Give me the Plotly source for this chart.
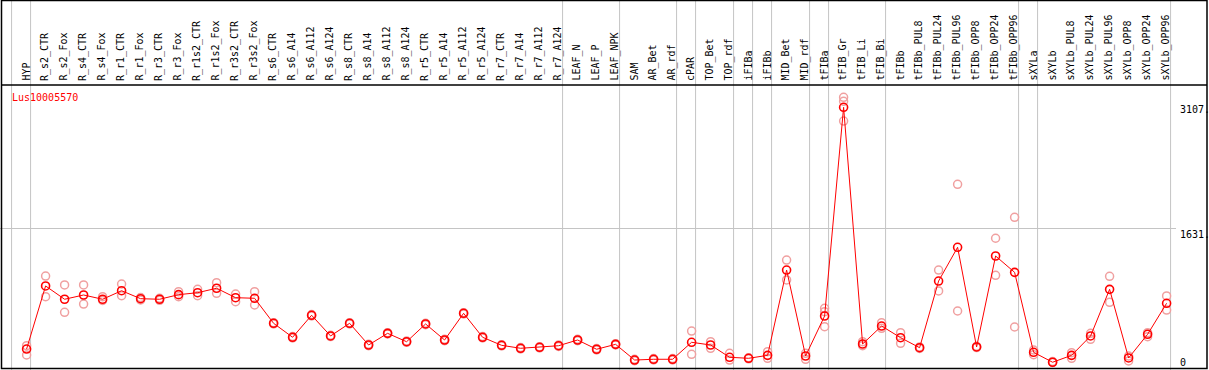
import plotly.graph_objects as go

categories = ["HYP", "R_s2_CTR", "R_s2_Fox", "R_s4_CTR", "R_s4_Fox", "R_r1_CTR", "R_r1_Fox",
              "R_r3_CTR", "R_r3_Fox", "R_r1s2_CTR", "R_r1s2_Fox", "R_r3s2_CTR", "R_r3s2_Fox",
              "R_s6_CTR", "R_s6_A14", "R_s6_A112", "R_s6_A124", "R_s8_CTR", "R_s8_A14",
              "R_s8_A112", "R_s8_A124", "R_r5_CTR", "R_r5_A14", "R_r5_A112", "R_r5_A124",
              "R_r7_CTR", "R_r7_A14", "R_r7_A112", "R_r7_A124", "LEAF_N", "LEAF_P", "LEAF_NPK",
              "SAM", "AR_Bet", "AR_rdf", "cPAR", "TOP_Bet", "TOP_rdf", "iFIBa", "iFIBb",
              "MID_Bet", "MID_rdf", "tFIBa", "tFIB_Gr", "tFIB_Li", "tFIB_Bi", "tFIBb",
              "tFIBb_PUL8", "tFIBb_PUL24", "tFIBb_PUL96", "tFIBb_OPP8", "tFIBb_OPP24",
              "tFIBb_OPP96", "sXYLa", "sXYLb", "sXYLb_PUL8", "sXYLb_PUL24", "sXYLb_PUL96",
              "sXYLb_OPP8", "sXYLb_OPP24", "sXYLb_OPP96"]

means = [163, 931, 769, 821, 769, 873, 776, 769, 825, 849, 903, 788, 781,
         476, 306, 574, 322, 476, 212, 354, 252, 468, 273, 598, 306,
         208, 172, 184, 203, 273, 160, 220,
         29, 38, 38, 245, 212, 62, 50, 86,
         1125, 78, 565, 3107, 224, 443, 301,
         179, 991, 1402, 188, 1296, 1097,
         123, 2, 86, 322, 890, 54, 342, 720]

rep1 = [203, 1052, 943, 943, 800, 955, 790, 781, 861, 890, 971, 833, 861,
        484, 314, 582, 330, 484, 220, 362, 260, 476, 281, 606, 314,
        216, 180, 192, 211, 281, 168, 228,
        37, 46, 46, 382, 252, 111, 56, 130,
        1247, 111, 659, 3229, 252, 484, 362,
        188, 1125, 2169, 196, 1512, 1767,
        151, 10, 118, 354, 1049, 78, 362, 809]

rep2 = [90, 800, 610, 711, 754, 812, 760, 756, 800, 812, 842, 739, 699,
        468, 298, 566, 314, 468, 204, 346, 244, 460, 265, 590, 298,
        200, 164, 176, 195, 265, 152, 212,
        21, 30, 30, 99, 172, 29, 44, 50,
        1004, 38, 618, 2940, 203, 415, 233,
        170, 870, 626, 180, 1061, 431,
        94, 0, 50, 281, 732, 17, 313, 638]

rep3 = [None] * len(categories)
rep3[42] = 435
rep3[43] = 3180

group_after = [-1, 0, 28, 31, 34, 35, 37, 38, 39, 41, 42, 45, 52, 53, 60]

title_text = "Lus10005570"
right_labels = ["3107.", "1631.", "0"]
grid_value = 1631

W, H = 1209, 370
X0, DX = 26.6, 19.0
Y0, SCALE = 362.4, 12.18

x_idx = list(range(len(categories)))

rx, ry = [], []
for reps in (rep1, rep2, rep3):
    for i, v in enumerate(reps):
        if v is not None:
            rx.append(i)
            ry.append(v)

fig = go.Figure()
fig.add_trace(go.Scatter(x=rx, y=ry, mode="markers",
                         marker=dict(symbol="circle-open", size=8,
                                     line=dict(width=1.5, color="#f0a0a0"),
                                     color="#f0a0a0"),
                         hoverinfo="skip", showlegend=False))
fig.add_trace(go.Scatter(x=x_idx, y=means, mode="lines+markers",
                         line=dict(color="#ff0000", width=1),
                         marker=dict(symbol="circle-open", size=8,
                                     line=dict(width=1.6, color="#ff0000"),
                                     color="#ff0000"),
                         showlegend=False))

shapes = []
gray = "#c4c4c4"
for g in group_after:
    shapes.append(dict(type="line", xref="x", yref="paper", x0=g + 0.21, x1=g + 0.21,
                       y0=0, y1=1, line=dict(color=gray, width=1), layer="below"))
shapes.append(dict(type="line", xref="paper", yref="y", x0=0, x1=1176 / W,
                   y0=grid_value, y1=grid_value, line=dict(color=gray, width=1), layer="below"))
# borders
shapes.append(dict(type="rect", xref="paper", yref="paper", x0=1.5 / W, x1=1207 / W,
                   y0=1 - 368.5 / H, y1=1 - 0.5 / H, line=dict(color="black", width=1.5)))
shapes.append(dict(type="line", xref="paper", yref="paper", x0=1.5 / W, x1=1207 / W,
                   y0=1 - 85 / H, y1=1 - 85 / H, line=dict(color="black", width=1.5)))

mono = "DejaVu Sans Mono"
annotations = []
for i, c in enumerate(categories):
    annotations.append(dict(x=i, xref="x", y=1 - 83 / H, yref="paper", text=c,
                            textangle=-90, showarrow=False, xanchor="center", yanchor="bottom",
                            xshift=-1, font=dict(family=mono, size=10, color="black")))
annotations.append(dict(x=10 / W, xref="paper", y=1 - 97 / H, yref="paper", text=title_text,
                        showarrow=False, xanchor="left", yanchor="middle",
                        font=dict(family=mono, size=10, color="#ff0000")))
for lab, py in zip(right_labels, [109, 234, 362]):
    annotations.append(dict(x=1178 / W, xref="paper", y=1 - py / H, yref="paper", text=lab,
                            showarrow=False, xanchor="left", yanchor="middle",
                            font=dict(family=mono, size=10, color="black")))

fig.update_layout(
    width=W, height=H,
    margin=dict(l=0, r=0, t=0, b=0),
    paper_bgcolor="white", plot_bgcolor="white",
    xaxis=dict(range=[-X0 / DX, (W - X0) / DX], visible=False, fixedrange=True),
    yaxis=dict(range=[(Y0 - H) * SCALE, Y0 * SCALE], visible=False, fixedrange=True),
    shapes=shapes, annotations=annotations,
)

fig.write_html("out.html", config={"displayModeBar": False},
               post_script="document.body.style.margin='0';document.body.style.padding='0';")
